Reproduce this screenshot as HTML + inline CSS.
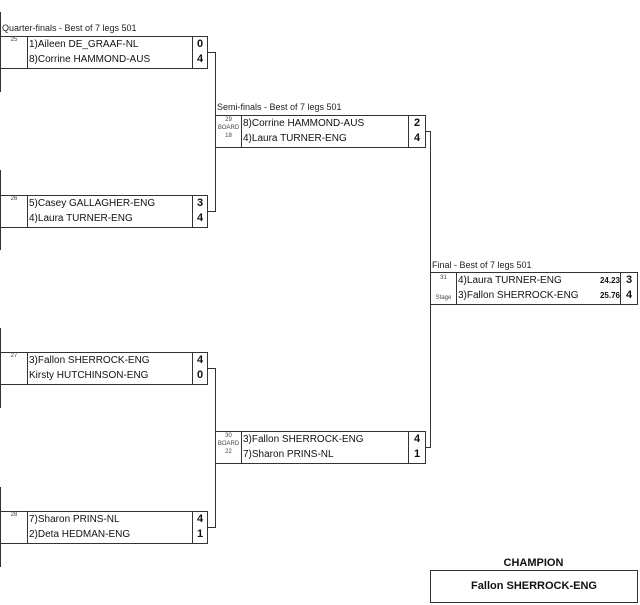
<!DOCTYPE html>
<html><head><style>
body{margin:0;width:640px;height:605px;background:#fff;position:relative;font-family:"Liberation Sans",sans-serif;color:#111;overflow:hidden}
.a{position:absolute}
.box{position:absolute;border:1px solid #333;box-sizing:border-box;height:33px}
.num{position:absolute;left:0;top:0;bottom:0;border-right:1px solid #333;font-size:6px;text-align:center;color:#444}
.nm{position:absolute;top:0;bottom:0;font-size:10px;line-height:15px;padding-left:1px;white-space:nowrap}
.sc{position:absolute;right:0;top:0;bottom:0;width:14px;border-left:1px solid #333;font-size:11px;font-weight:bold;line-height:15px;text-align:center}
.lbl{position:absolute;font-size:9px;color:#222}
.v{position:absolute;width:1px;background:#333}
.h{position:absolute;height:1px;background:#333}
</style></head><body>
<div class="v" style="left:0;top:12px;height:80px"></div>
<div class="v" style="left:0;top:170px;height:80px"></div>
<div class="v" style="left:0;top:328px;height:80px"></div>
<div class="v" style="left:0;top:487px;height:80px"></div>

<div class="lbl" style="left:2px;top:23px">Quarter-finals - Best of 7 legs 501</div>
<div class="box" style="left:0;top:36px;width:208px"><div class="num" style="width:26px">25</div><div class="nm" style="left:27px">1)Aileen DE_GRAAF-NL<br>8)Corrine HAMMOND-AUS</div><div class="sc">0<br>4</div></div>
<div class="box" style="left:0;top:195px;width:208px"><div class="num" style="width:26px">26</div><div class="nm" style="left:27px">5)Casey GALLAGHER-ENG<br>4)Laura TURNER-ENG</div><div class="sc">3<br>4</div></div>
<div class="box" style="left:0;top:352px;width:208px"><div class="num" style="width:26px">27</div><div class="nm" style="left:27px">3)Fallon SHERROCK-ENG<br>Kirsty HUTCHINSON-ENG</div><div class="sc">4<br>0</div></div>
<div class="box" style="left:0;top:511px;width:208px"><div class="num" style="width:26px">28</div><div class="nm" style="left:27px">7)Sharon PRINS-NL<br>2)Deta HEDMAN-ENG</div><div class="sc">4<br>1</div></div>

<div class="h" style="left:207px;top:52px;width:8px"></div>
<div class="h" style="left:207px;top:211px;width:8px"></div>
<div class="v" style="left:215px;top:52px;height:160px"></div>
<div class="h" style="left:207px;top:368px;width:8px"></div>
<div class="h" style="left:207px;top:527px;width:8px"></div>
<div class="v" style="left:215px;top:368px;height:160px"></div>

<div class="lbl" style="left:217px;top:102px">Semi-finals - Best of 7 legs 501</div>
<div class="box" style="left:215px;top:115px;width:211px"><div class="num" style="width:25px;line-height:8px">29<br>BOARD<br>18</div><div class="nm" style="left:26px">8)Corrine HAMMOND-AUS<br>4)Laura TURNER-ENG</div><div class="sc" style="width:16px">2<br>4</div></div>
<div class="box" style="left:215px;top:431px;width:211px"><div class="num" style="width:25px;line-height:8px">30<br>BOARD<br>22</div><div class="nm" style="left:26px">3)Fallon SHERROCK-ENG<br>7)Sharon PRINS-NL</div><div class="sc" style="width:16px">4<br>1</div></div>

<div class="h" style="left:425px;top:131px;width:6px"></div>
<div class="h" style="left:425px;top:447px;width:6px"></div>
<div class="v" style="left:430px;top:131px;height:317px"></div>

<div class="lbl" style="left:432px;top:260px">Final - Best of 7 legs 501</div>
<div class="box" style="left:430px;top:272px;width:208px"><div class="num" style="width:25px;line-height:10px">31<br><br>Stage</div><div class="nm" style="left:26px">4)Laura TURNER-ENG<br>3)Fallon SHERROCK-ENG</div><div class="a" style="right:17px;top:0;font-size:8px;font-weight:bold;line-height:15px;text-align:right">24.23<br>25.76</div><div class="sc" style="width:16px">3<br>4</div></div>

<div class="a" style="left:430px;top:557px;width:207px;text-align:center;font-size:11px;font-weight:bold">CHAMPION</div>
<div class="a" style="left:430px;top:570px;width:208px;height:33px;border:1px solid #333;box-sizing:border-box;text-align:center;line-height:31px;font-size:11px;font-weight:bold">Fallon SHERROCK-ENG</div>
</body></html>
